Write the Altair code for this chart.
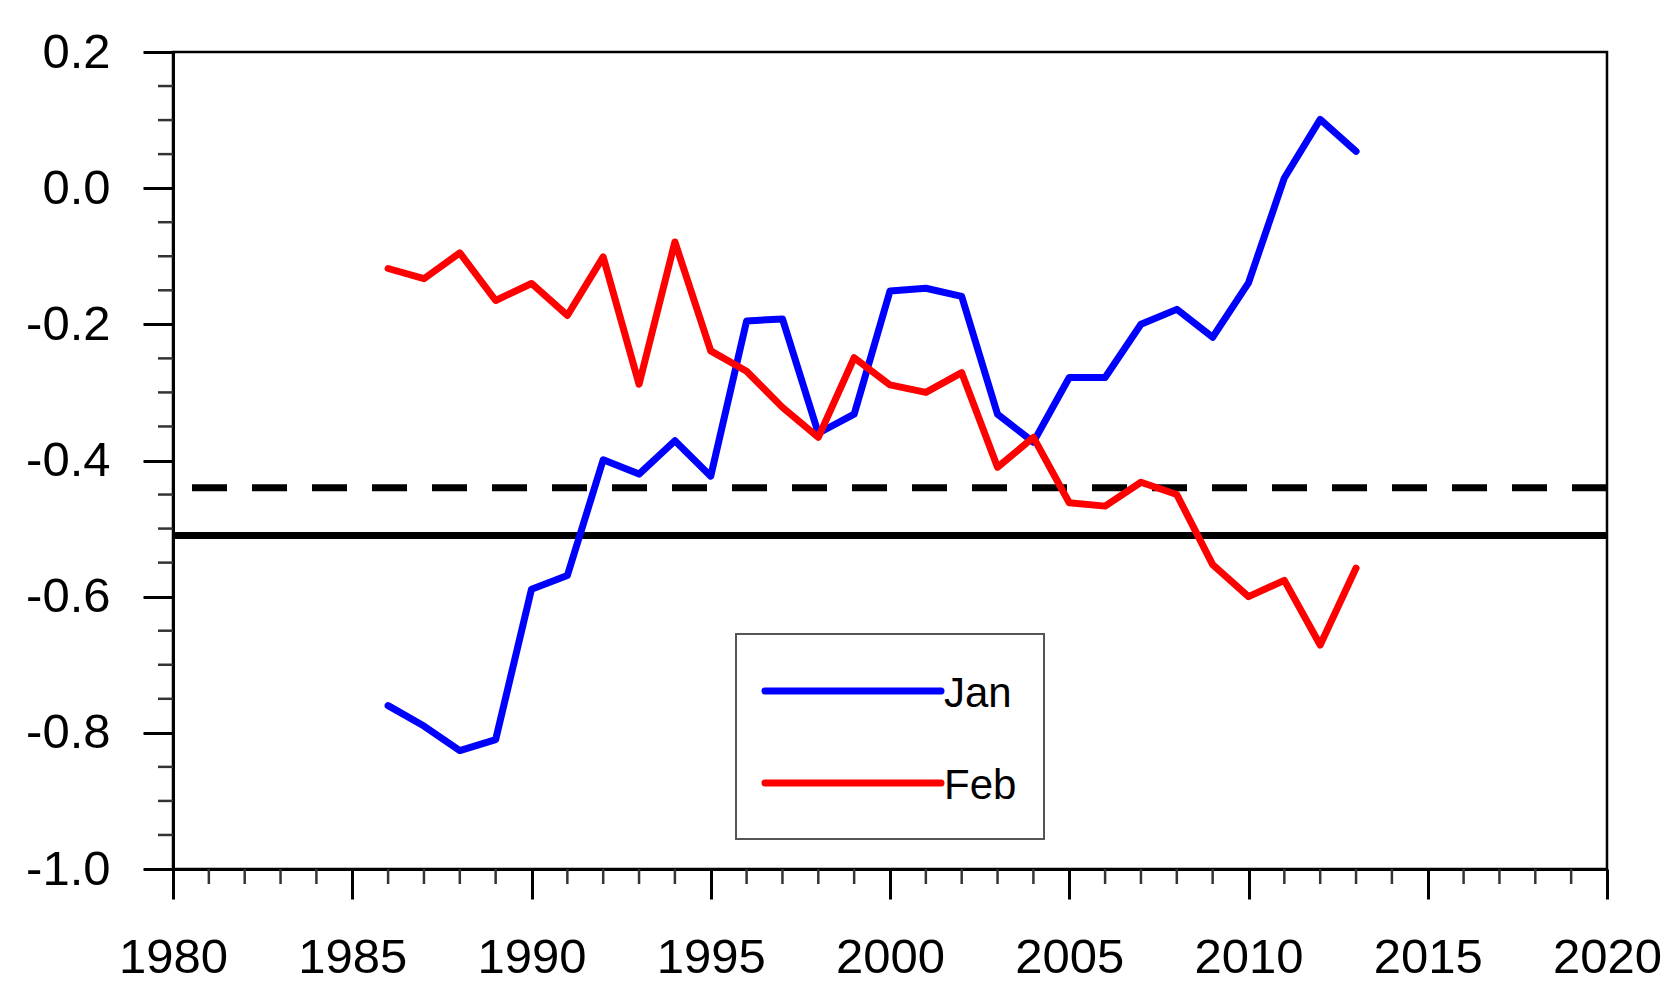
import altair as alt
import pandas as pd

years = list(range(1986, 2014))
jan = [-0.76, -0.79, -0.826, -0.81, -0.589, -0.569, -0.399, -0.42, -0.371, -0.423,
       -0.195, -0.192, -0.36, -0.332, -0.151, -0.147, -0.159, -0.332, -0.373, -0.278,
       -0.278, -0.2, -0.178, -0.219, -0.139, 0.015, 0.101, 0.054]
feb = [-0.118, -0.133, -0.095, -0.165, -0.14, -0.187, -0.101, -0.288, -0.079, -0.239,
       -0.269, -0.322, -0.366, -0.249, -0.289, -0.3, -0.271, -0.41, -0.366, -0.462,
       -0.467, -0.432, -0.45, -0.553, -0.6, -0.576, -0.671, -0.558]
series_names = ["Jan", "Feb"]
series_colors = ["#0000ff", "#ff0000"]
dashed_level = -0.44
solid_level = -0.51
y_major = [-1.0, -0.8, -0.6, -0.4, -0.2, 0.0, 0.2]
y_minor = [round(-1.0 + 0.05 * i, 2) for i in range(25)]
x_major = [1980, 1985, 1990, 1995, 2000, 2005, 2010, 2015, 2020]
x_minor = list(range(1980, 2021))

W, H = 1434, 817
FONT = "Liberation Sans"

df = pd.DataFrame({
    "year": years * 2,
    "value": jan + feb,
    "series": ["Jan"] * len(years) + ["Feb"] * len(years),
})

xscale = alt.Scale(domain=[1980, 2020], nice=False, zero=False)
yscale = alt.Scale(domain=[-1.0, 0.2], nice=False, zero=False)

xaxis = alt.Axis(values=x_major, format="d", title=None, grid=False,
                 tickSize=30, tickWidth=3, tickColor="black",
                 domainColor="black", domainWidth=3,
                 labelFont=FONT, labelFontSize=49, labelColor="black",
                 labelPadding=34, labelFlush=False, labelOverlap=False)
yaxis = alt.Axis(values=y_major, title=None, grid=False,
                 labelExpr="datum.value < 0 ? '-' + format(-datum.value, '.1f') : format(datum.value, '.1f')",
                 tickSize=30, tickWidth=3, tickColor="black",
                 domainColor="black", domainWidth=3,
                 labelFont=FONT, labelFontSize=49, labelColor="black",
                 labelPadding=33, labelFlush=False, labelOverlap=False)

lines = alt.Chart(df).mark_line(strokeWidth=7, strokeJoin="round", strokeCap="round").encode(
    x=alt.X("year:Q", scale=xscale, axis=xaxis),
    y=alt.Y("value:Q", scale=yscale, axis=yaxis),
    color=alt.Color("series:N", scale=alt.Scale(domain=series_names, range=series_colors), legend=None),
    detail="series:N",
)

dashed = alt.Chart(pd.DataFrame({"v": [dashed_level]})).mark_rule(
    color="black", strokeWidth=7, strokeDash=[35, 25]).encode(y=alt.Y("v:Q", scale=yscale))
solid = alt.Chart(pd.DataFrame({"v": [solid_level]})).mark_rule(
    color="black", strokeWidth=7).encode(y=alt.Y("v:Q", scale=yscale))

ymin_df = pd.DataFrame({"v": [v for v in y_minor if round(v * 5, 6) != round(v * 5)]})
yminor = alt.Chart(ymin_df).mark_rule(color="#333333", strokeWidth=2.5).encode(
    y=alt.Y("v:Q", scale=yscale), x=alt.value(-15), x2=alt.value(0))
xmin_df = pd.DataFrame({"v": [v for v in x_minor if v % 5 != 0]})
xminor = alt.Chart(xmin_df).mark_rule(color="#333333", strokeWidth=2.5).encode(
    x=alt.X("v:Q", scale=xscale), y=alt.value(H), y2=alt.value(H + 15))

# legend box
leg_box = alt.Chart(pd.DataFrame({"a": [0]})).mark_rect(
    fill="white", stroke="#555555", strokeWidth=2).encode(
    x=alt.value(563), x2=alt.value(871), y=alt.value(582), y2=alt.value(787))
leg_df = pd.DataFrame({"series": series_names, "yy": [639, 731], "ty": [655, 747]})
leg_lines = alt.Chart(leg_df).mark_rule(strokeWidth=7, strokeCap="round").encode(
    x=alt.value(592), x2=alt.value(768), y=alt.Y("yy:Q", scale=None),
    color=alt.Color("series:N", scale=alt.Scale(domain=series_names, range=series_colors), legend=None))
leg_text = alt.Chart(leg_df).mark_text(
    align="left", baseline="alphabetic", font=FONT, fontSize=42, color="black").encode(
    x=alt.value(771), y=alt.Y("ty:Q", scale=None), text="series:N")

chart = alt.layer(dashed, solid, lines, yminor, xminor, leg_box, leg_lines, leg_text).properties(
    width=W, height=H,
    autosize=alt.AutoSizeParams(type="none"),
    padding={"left": 165, "top": 44, "right": 55, "bottom": 120},
    background="white",
).configure_view(stroke="black", strokeWidth=2.5)

chart.save("out.html", embed_options={"renderer": "svg", "actions": False})
